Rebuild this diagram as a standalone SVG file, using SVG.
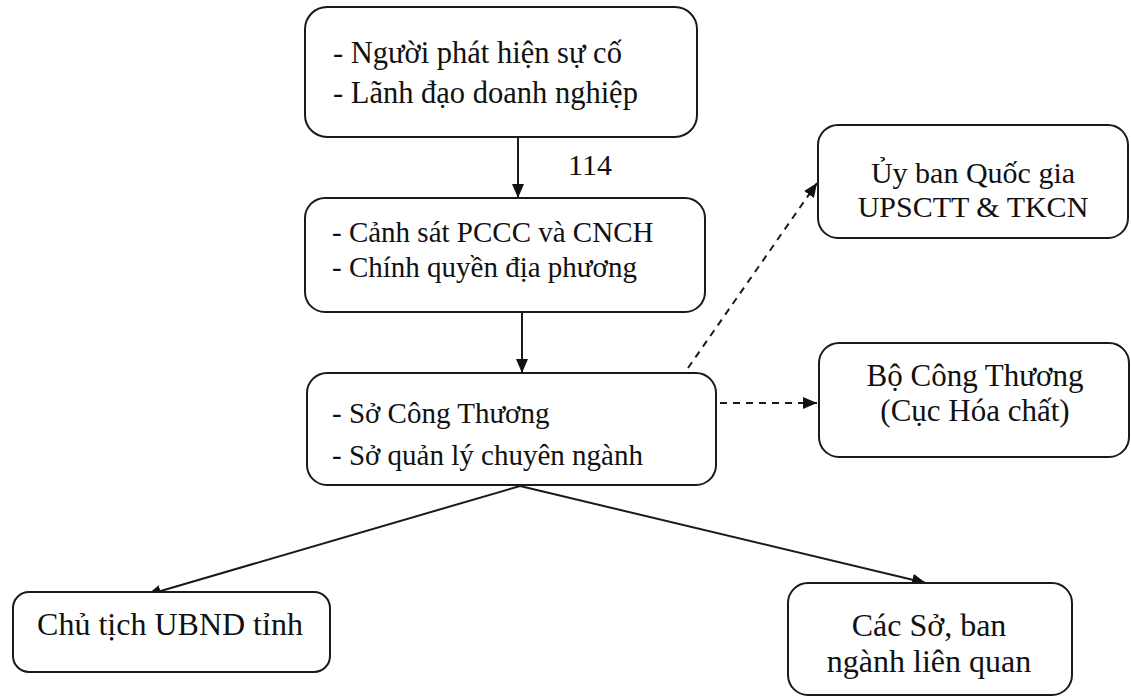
<svg xmlns="http://www.w3.org/2000/svg" width="1131" height="697" viewBox="0 0 1131 697">
<style>
.box{fill:#fff;stroke:#1a1a1a;stroke-width:2}
.t{font-family:"Liberation Serif","Times New Roman",serif;fill:#111}
.c{text-anchor:middle}
.ln{stroke:#1a1a1a;stroke-width:2;fill:none}
.dash{stroke-dasharray:7,6}
</style>
<defs>
<marker id="a" viewBox="0 0 14 12" refX="14" refY="6" markerWidth="14" markerHeight="12" markerUnits="userSpaceOnUse" orient="auto">
<path d="M0,0 L14,6 L0,12 z" fill="#111"/>
</marker>
</defs>
<rect width="1131" height="697" fill="#fff"/>
<g id="connectors">
<line class="ln" x1="518" y1="137" x2="518" y2="198" marker-end="url(#a)"/>
<text class="t" x="568" y="175" font-size="30">114</text>
<line class="ln" x1="522" y1="312" x2="522" y2="373" marker-end="url(#a)"/>
<line class="ln dash" x1="688" y1="368" x2="817" y2="183" marker-end="url(#a)"/>
<line class="ln dash" x1="720" y1="403" x2="817" y2="403" marker-end="url(#a)"/>
<line class="ln" x1="520" y1="486" x2="147" y2="595" marker-end="url(#a)"/>
<line class="ln" x1="520" y1="486" x2="926" y2="583" marker-end="url(#a)"/>
</g>
<g id="n1">
<rect class="box" x="305" y="7" width="392" height="130" rx="22"/>
<text class="t" x="333" y="63" font-size="30.5">- Người phát hiện sự cố</text>
<text class="t" x="333" y="103" font-size="30.5">- Lãnh đạo doanh nghiệp</text>
</g>
<g id="n2">
<rect class="box" x="305" y="198" width="400" height="114" rx="20"/>
<text class="t" x="332" y="242" font-size="29">- Cảnh sát PCCC và CNCH</text>
<text class="t" x="332" y="277" font-size="29">- Chính quyền địa phương</text>
</g>
<g id="n3">
<rect class="box" x="307" y="373" width="409" height="112" rx="20"/>
<text class="t" x="332" y="423" font-size="29">- Sở Công Thương</text>
<text class="t" x="332" y="465" font-size="29">- Sở quản lý chuyên ngành</text>
</g>
<g id="n4">
<rect class="box" x="818" y="125" width="310" height="113" rx="20"/>
<text class="t c" x="973" y="183" font-size="30">Ủy ban Quốc gia</text>
<text class="t c" x="973" y="217" font-size="30">UPSCTT &amp; TKCN</text>
</g>
<g id="n5">
<rect class="box" x="819" y="343" width="310" height="114" rx="20"/>
<text class="t c" x="975" y="386" font-size="31">Bộ Công Thương</text>
<text class="t c" x="975" y="421" font-size="31">(Cục Hóa chất)</text>
</g>
<g id="n6">
<rect class="box" x="13" y="592" width="317" height="80" rx="16"/>
<text class="t c" x="170" y="635" font-size="32">Chủ tịch UBND tỉnh</text>
</g>
<g id="n7">
<rect class="box" x="788" y="583" width="284" height="112" rx="20"/>
<text class="t c" x="929" y="636" font-size="32">Các Sở, ban</text>
<text class="t c" x="929" y="672" font-size="32">ngành liên quan</text>
</g>
</svg>
